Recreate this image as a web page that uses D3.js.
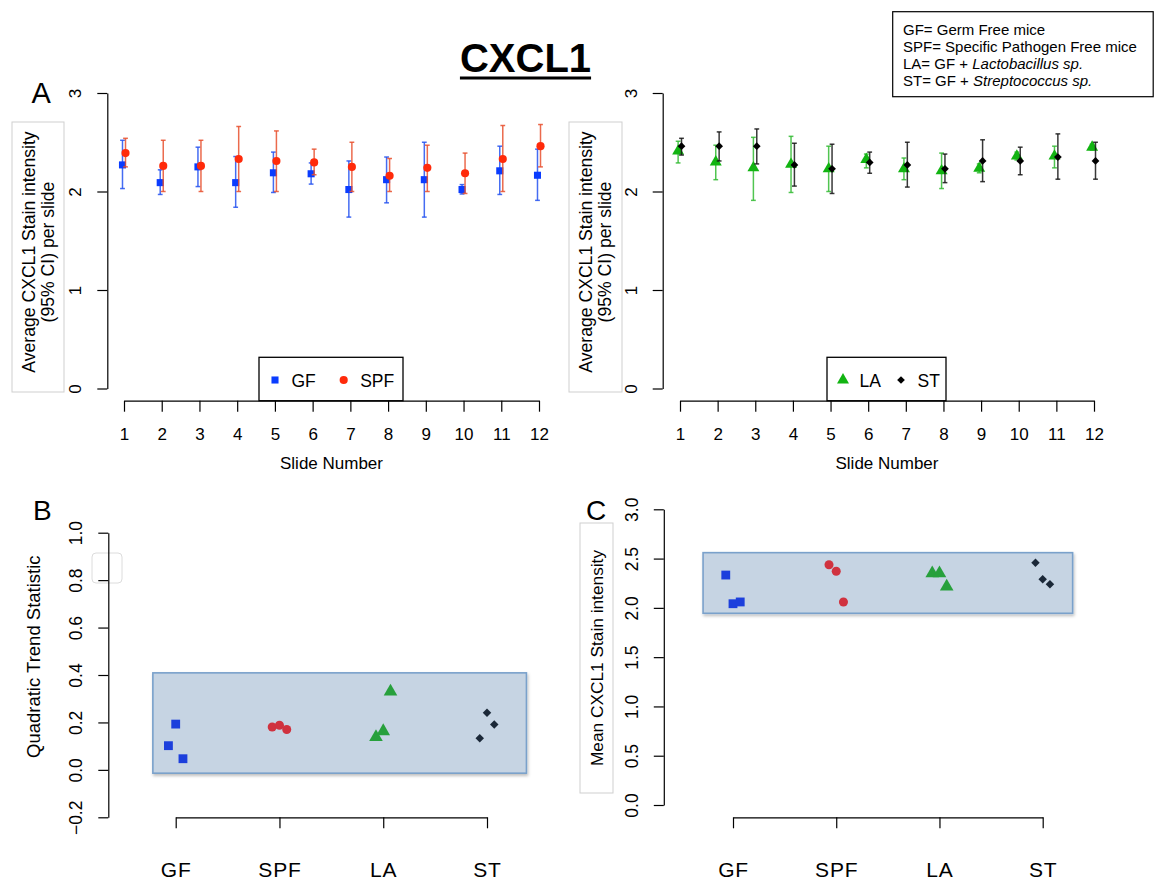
<!DOCTYPE html>
<html>
<head>
<meta charset="utf-8">
<script src="https://cdn.jsdelivr.net/npm/d3@7"></script>
<style>
  body { margin: 0; background: #fff; }
  svg { display: block; font-family: "Liberation Sans", Arial, Helvetica, sans-serif; }
</style>
</head>
<body>
<svg id="chart" width="1155" height="882"></svg>
<script>
// ---- data: per-slide average CXCL1 stain intensity with 95% CI ----
const slides = [1, 2, 3, 4, 5, 6, 7, 8, 9, 10, 11, 12];

const gfMean = [2.27, 2.09, 2.25, 2.09, 2.19, 2.18, 2.02, 2.12, 2.12, 2.02, 2.21, 2.165];
const gfLow  = [2.03, 1.97, 2.05, 1.84, 1.99, 2.075, 1.74, 1.885, 1.74, 1.975, 1.97, 1.91];
const gfHigh = [2.52, 2.22, 2.45, 2.355, 2.40, 2.29, 2.31, 2.35, 2.50, 2.07, 2.46, 2.43];

const spfMean = [2.39, 2.26, 2.26, 2.33, 2.31, 2.295, 2.25, 2.16, 2.24, 2.185, 2.33, 2.46];
const spfLow  = [2.25, 2.00, 2.00, 2.00, 2.00, 2.17, 2.00, 2.00, 2.00, 1.98, 2.00, 2.25];
const spfHigh = [2.54, 2.52, 2.52, 2.66, 2.615, 2.43, 2.50, 2.335, 2.47, 2.39, 2.67, 2.68];

const laMean = [2.41, 2.30, 2.24, 2.275, 2.23, 2.325, 2.23, 2.21, 2.235, 2.36, 2.36, 2.45];
const laLow  = [2.29, 2.12, 1.91, 1.99, 2.00, 2.24, 2.12, 2.03, 2.19, 2.32, 2.24, 2.42];
const laHigh = [2.51, 2.47, 2.55, 2.56, 2.46, 2.38, 2.34, 2.39, 2.28, 2.40, 2.46, 2.48];

const stMean = [2.46, 2.46, 2.46, 2.27, 2.23, 2.295, 2.27, 2.23, 2.31, 2.31, 2.35, 2.31];
const stLow  = [2.37, 2.31, 2.28, 2.055, 1.98, 2.185, 2.045, 2.09, 2.10, 2.17, 2.125, 2.125];
const stHigh = [2.54, 2.605, 2.635, 2.49, 2.48, 2.40, 2.50, 2.38, 2.525, 2.45, 2.585, 2.50];

// ---- data: per-mouse summaries by group ----
const groups = ["GF", "SPF", "LA", "ST"];
const jitter = [-0.07, 0, 0.07];
const quadTrend = {
  GF:  [0.102, 0.193, 0.047],
  SPF: [0.181, 0.188, 0.170],
  LA:  [0.138, 0.163, 0.330],
  ST:  [0.133, 0.241, 0.191]
};
const meanIntensity = {
  GF:  [2.333, 2.042, 2.060],
  SPF: [2.438, 2.371, 2.060],
  LA:  [2.350, 2.350, 2.215],
  ST:  [2.458, 2.290, 2.240]
};

// tick values
const ticksA = [0, 1, 2, 3];
const ticksB = [-0.2, 0, 0.2, 0.4, 0.6, 0.8, 1.0];
const ticksC = [0, 0.5, 1.0, 1.5, 2.0, 2.5, 3.0];

// highlighted ranges (value bands)
const bandB = [-0.014, 0.409];
const bandC = [1.945, 2.56];

const svg = d3.select("#chart");

// drop shadow for highlight bands
const defs = svg.append("defs");
const f = defs.append("filter").attr("id", "shadow").attr("x", "-5%").attr("y", "-10%").attr("width", "115%").attr("height", "130%");
f.append("feDropShadow").attr("dx", 1).attr("dy", 2).attr("stdDeviation", 1.6).attr("flood-color", "#000").attr("flood-opacity", 0.25);

// ---- styles per group (rot: square turned 45deg gives an even diamond) ----
const style = {
  GF:  { sym: d3.symbolSquare,   rot: 0,  dot: "#0a3cff", bar: "#2452f0", sumDot: "#1c3fdc", size: 50, sumSize: 78 },
  SPF: { sym: d3.symbolCircle,   rot: 0,  dot: "#ff2a0a", bar: "#e8502e", sumDot: "#d0323f", size: 52, sumSize: 64 },
  LA:  { sym: d3.symbolTriangle, rot: 0,  dot: "#12b412", bar: "#33bb33", sumDot: "#27a03c", size: 62, sumSize: 80 },
  ST:  { sym: d3.symbolSquare,   rot: 45, dot: "#000000", bar: "#151515", sumDot: "#1b2838", size: 30, sumSize: 36 }
};

function styleYAxis(sel, labelOffset, fontSize) {
  sel.select(".domain").attr("stroke", "#000").attr("stroke-width", 1.2);
  sel.selectAll(".tick line").attr("stroke", "#000").attr("stroke-width", 1.2);
  sel.selectAll(".tick text")
    .attr("x", 0).attr("dy", 0).attr("y", labelOffset)
    .attr("transform", "rotate(-90)")
    .attr("text-anchor", "middle")
    .attr("fill", "#000")
    .style("font-size", fontSize + "px")
    .style("font-family", "'Liberation Sans', Arial, sans-serif");
}
function styleXAxis(sel, labelBaseline, fontSize, spacing) {
  sel.select(".domain").attr("stroke", "#000").attr("stroke-width", 1.2);
  sel.selectAll(".tick line").attr("stroke", "#000").attr("stroke-width", 1.2);
  sel.selectAll(".tick text")
    .attr("y", labelBaseline).attr("dy", 0)
    .attr("fill", "#000")
    .style("font-size", fontSize + "px")
    .style("letter-spacing", (spacing || 0) + "px")
    .style("font-family", "'Liberation Sans', Arial, sans-serif");
}

function rotLabel(x, y, text, size) {
  svg.append("text")
    .attr("transform", `translate(${x},${y}) rotate(-90)`)
    .attr("text-anchor", "middle")
    .style("font-size", size + "px")
    .text(text);
}

// ---- panel A: per-slide means with 95% CI ----
const yA = d3.scaleLinear().domain([0, 3]).range([388.5, 93]);

function slidePanel(cfg) {
  const x = d3.scaleLinear().domain([1, 12]).range(cfg.xRange);
  const g = svg.append("g");

  // y-label frame
  g.append("rect").attr("x", cfg.labelBox[0]).attr("y", 122).attr("width", cfg.labelBox[1]).attr("height", 270)
    .attr("fill", "#fff").attr("stroke", "#cfcfcf").attr("stroke-width", 1);
  rotLabel(cfg.labelX[0], 252, "Average CXCL1 Stain intensity", 17.6);
  rotLabel(cfg.labelX[1], 252, "(95% CI) per slide", 17.6);

  const ya = g.append("g").attr("transform", `translate(${cfg.axisX},0)`)
    .call(d3.axisLeft(yA).tickValues(ticksA).tickSize(10).tickSizeOuter(0).tickFormat(d3.format("d")));
  styleYAxis(ya, -26, 17);

  const xa = g.append("g").attr("transform", "translate(0,400.7)")
    .call(d3.axisBottom(x).tickValues(slides).tickSize(11).tickSizeOuter(0).tickFormat(d3.format("d")));
  styleXAxis(xa, 39.3, 17);

  g.append("text").attr("x", (cfg.xRange[0] + cfg.xRange[1]) / 2).attr("y", 469.3)
    .attr("text-anchor", "middle").style("font-size", "17px").text("Slide Number");

  cfg.series.forEach(s => {
    const st = style[s.name];
    const sg = g.append("g");
    slides.forEach((d, i) => {
      const cx = x(d + s.offset);
      const y0 = yA(s.low[i]), y1 = yA(s.high[i]);
      sg.append("line").attr("x1", cx).attr("x2", cx).attr("y1", y0).attr("y2", y1)
        .attr("stroke", st.bar).attr("stroke-width", 1.5).attr("stroke-opacity", 0.85);
      [y0, y1].forEach(yy => sg.append("line").attr("x1", cx - 2.4).attr("x2", cx + 2.4).attr("y1", yy).attr("y2", yy)
        .attr("stroke", st.bar).attr("stroke-width", 1.5).attr("stroke-opacity", 0.85));
    });
    sg.selectAll("path.pt").data(slides).join("path").attr("class", "pt")
      .attr("d", d3.symbol(st.sym, st.size))
      .attr("transform", (d, i) => `translate(${x(d + s.offset)},${yA(s.mean[i])}) rotate(${st.rot})`)
      .attr("fill", st.dot);
  });

  // legend
  const lg = g.append("g");
  lg.append("rect").attr("x", cfg.legend.x).attr("y", 357.3).attr("width", cfg.legend.w).attr("height", 43.4)
    .attr("fill", "#fff").attr("stroke", "#000").attr("stroke-width", 1.3);
  cfg.series.forEach((s, k) => {
    const st = style[s.name];
    const px = cfg.legend.items[k];
    lg.append("path").attr("d", d3.symbol(st.sym, st.size))
      .attr("transform", `translate(${px},380) rotate(${st.rot})`).attr("fill", st.dot);
    lg.append("text").attr("x", px + 16.5).attr("y", 386.5).style("font-size", "17.5px").text(s.name);
  });
}

slidePanel({
  xRange: [124, 539], axisX: 107.3, labelBox: [12, 52], labelX: [34.5, 53.5],
  legend: { x: 259, w: 144, items: [275, 343.7] },
  series: [
    { name: "GF",  mean: gfMean,  low: gfLow,  high: gfHigh,  offset: -0.04 },
    { name: "SPF", mean: spfMean, low: spfLow, high: spfHigh, offset: 0.04 }
  ]
});
slidePanel({
  xRange: [680, 1094], axisX: 662.7, labelBox: [569, 53], labelX: [591.5, 610.5],
  legend: { x: 827, w: 119, items: [843, 901] },
  series: [
    { name: "LA", mean: laMean, low: laLow, high: laHigh, offset: -0.05 },
    { name: "ST", mean: stMean, low: stLow, high: stHigh, offset: 0.04 }
  ]
});

// ---- panels B and C: per-mouse summaries ----
function groupPanel(cfg) {
  const x = d3.scaleLinear().domain([0, 3]).range(cfg.xRange);
  const y = d3.scaleLinear().domain(cfg.yDomain).range(cfg.yRange);
  const g = svg.append("g");

  // highlighted band
  g.append("rect")
    .attr("x", x(cfg.bandX[0])).attr("width", x(cfg.bandX[1]) - x(cfg.bandX[0]))
    .attr("y", y(cfg.band[1])).attr("height", y(cfg.band[0]) - y(cfg.band[1]))
    .attr("fill", "#c6d4e3").attr("stroke", "#7aa1cb").attr("stroke-width", 1.6)
    .attr("filter", "url(#shadow)");

  const ya = g.append("g").attr("transform", `translate(${cfg.axisX},0)`)
    .call(d3.axisLeft(y).tickValues(cfg.ticks).tickSize(10).tickSizeOuter(0).tickFormat(d3.format(".1f")));
  styleYAxis(ya, cfg.labelOffset, 17.5);

  const xa = g.append("g").attr("transform", "translate(0,817.3)")
    .call(d3.axisBottom(x).tickValues([0, 1, 2, 3]).tickSize(11).tickSizeOuter(0).tickFormat(i => groups[i]));
  styleXAxis(xa, 59.4, 21, 0.8);

  groups.forEach((grp, gi) => {
    const st = style[grp];
    g.selectAll(null).data(cfg.values[grp]).join("path")
      .attr("d", d3.symbol(st.sym, st.sumSize))
      .attr("transform", (v, j) => `translate(${x(gi + jitter[j])},${y(v)}) rotate(${st.rot})`)
      .attr("fill", st.sumDot);
  });
}

// faint frame left of panel B axis
svg.append("rect").attr("x", 92).attr("y", 553).attr("width", 30).attr("height", 30).attr("rx", 4)
  .attr("fill", "none").attr("stroke", "#dcdcdc").attr("stroke-width", 1);

groupPanel({
  xRange: [175.7, 487], yDomain: [-0.2, 1.0], yRange: [817.3, 532.7], axisX: 108.3,
  ticks: ticksB, labelOffset: -26.3, band: bandB, bandX: [-0.22, 3.38], values: quadTrend
});
rotLabel(39.5, 656.7, "Quadratic Trend Statistic", 18.5);

svg.append("rect").attr("x", 580).attr("y", 523).attr("width", 33).attr("height", 270)
  .attr("fill", "#fff").attr("stroke", "#cfcfcf").attr("stroke-width", 1);
rotLabel(602.5, 658, "Mean CXCL1 Stain intensity", 17.3);

groupPanel({
  xRange: [733, 1042.7], yDomain: [0, 3], yRange: [805, 509.3], axisX: 663.8,
  ticks: ticksC, labelOffset: -25.8, band: bandC, bandX: [-0.29, 3.29], values: meanIntensity
});

// ---- titles and panel letters ----
const title = svg.append("text").attr("x", 525.5).attr("y", 71.7).attr("text-anchor", "middle")
  .style("font-size", "40px").style("font-weight", "bold").text("CXCL1");
const tw = title.node().getComputedTextLength();
svg.append("line").attr("x1", 525.5 - tw / 2).attr("x2", 525.5 + tw / 2).attr("y1", 78).attr("y2", 78)
  .attr("stroke", "#000").attr("stroke-width", 3.2);

svg.append("text").attr("x", 31.6).attr("y", 103.3).style("font-size", "29px").text("A");
svg.append("text").attr("x", 33).attr("y", 520).style("font-size", "28px").text("B");
svg.append("text").attr("x", 586).attr("y", 520).style("font-size", "28px").text("C");

// ---- group key ----
svg.append("rect").attr("x", 892.7).attr("y", 11.7).attr("width", 260.5).attr("height", 85)
  .attr("fill", "#fff").attr("stroke", "#000").attr("stroke-width", 1.2);
const keyLines = [
  ["GF= Germ Free mice", ""],
  ["SPF= Specific Pathogen Free mice", ""],
  ["LA= GF + ", "Lactobacillus sp."],
  ["ST= GF + ", "Streptococcus sp."]
];
keyLines.forEach((ln, i) => {
  const t = svg.append("text").attr("x", 903).attr("y", 35 + i * 17).style("font-size", "15px");
  t.append("tspan").text(ln[0]);
  if (ln[1]) t.append("tspan").style("font-style", "italic").text(ln[1]);
});
</script>
</body>
</html>
